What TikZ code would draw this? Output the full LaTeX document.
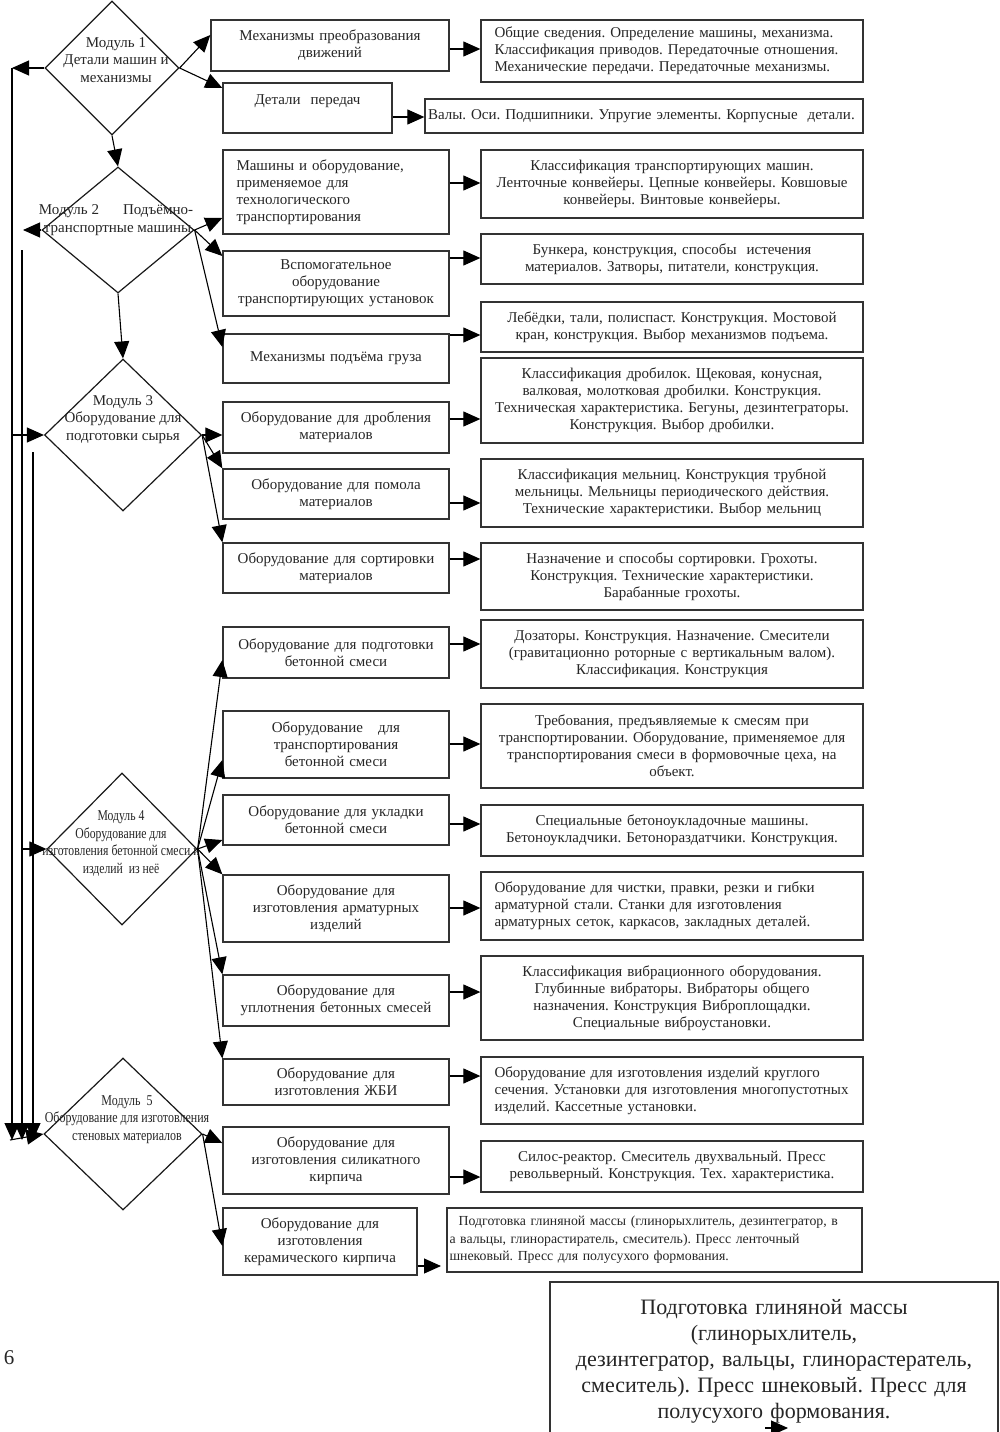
\documentclass[tikz,border=0pt]{standalone}
\usepackage{fontspec}
\usepackage{graphicx}
\setmainfont{Liberation Serif}
\usetikzlibrary{arrows.meta,shapes.geometric}
\frenchspacing
\begin{document}
\begin{tikzpicture}[x=1pt,y=-1pt,
  box/.style={draw=black!80, line width=1.3pt, inner sep=2pt, text=black!85,
    font=\fontsize{15}{17}\selectfont, align=center},
  dia/.style={draw=black!90, diamond, line width=1.2pt, inner sep=0pt},
  arr/.style={line width=1.1pt, -{Triangle[length=17pt,width=15pt]}},
  dtext/.style={font=\fontsize{15}{17.5}\selectfont, align=center, inner sep=0pt, text=black!85},
]
\useasboundingbox (0,0) rectangle (1000,1432);
\fill[white] (0,0) rectangle (1000,1432);

% ---------- diamonds ----------
\node[dia, minimum width=134pt, minimum height=134pt] (D1) at (112,68) {};
\node[dia, minimum width=152pt, minimum height=126pt] (D2) at (118,230) {};
\node[dia, minimum width=157pt, minimum height=152pt] (D3) at (123,435) {};
\node[dia, minimum width=150pt, minimum height=152pt] (D4) at (122,849) {};
\node[dia, minimum width=158pt, minimum height=152pt] (D5) at (123,1134) {};

\node[dtext] (T1) at (116,60) {Модуль 1\\Детали машин и\\механизмы};
\node[dtext, align=left] (T2) at (116,220) {Модуль 2\hspace{24pt}Подъёмно-\\\hspace*{5pt}транспортные машины};
\node[dtext] (T3) at (123,419.5) {Модуль 3\\Оборудование для\\подготовки сырья};
\node[dtext] (T4) at (121,843.5) {\scalebox{0.78}[1]{Модуль 4}\\\scalebox{0.78}[1]{Оборудование для}\\\scalebox{0.78}[1]{изготовления бетонной смеси и}\\\scalebox{0.78}[1]{изделий\ \ из неё}};
\node[dtext] (T5) at (127,1119.5) {\scalebox{0.8}[1]{Модуль\ \ 5}\\\scalebox{0.8}[1]{Оборудование для изготовления}\\\scalebox{0.8}[1]{стеновых материалов}};

% ---------- left column boxes ----------
\node[box, minimum width=238pt, minimum height=51pt, text width=232pt] (B1) at (330,45.5) {Механизмы преобразования\\движений};
\node[box, minimum width=169pt, minimum height=50pt, text width=163pt, text height=10pt, text depth=17pt] (B2) at (307.5,108) {Детали\ \ передач};
\node[box, minimum width=226pt, minimum height=84pt, text width=199pt, align=left] (B3) at (336,192) {Машины и оборудование,\\применяемое для\\технологического\\транспортирования};
\node[box, minimum width=226pt, minimum height=65pt, text width=220pt] (B4) at (336,283.5) {Вспомогательное\\оборудование\\транспортирующих установок};
\node[box, minimum width=226pt, minimum height=49pt, text width=220pt] (B5) at (336,358.5) {Механизмы подъёма груза};
\node[box, minimum width=226pt, minimum height=51pt, text width=220pt] (B6) at (336,427.5) {Оборудование для дробления\\материалов};
\node[box, minimum width=226pt, minimum height=50pt, text width=220pt] (B7) at (336,494) {Оборудование для помола\\материалов};
\node[box, minimum width=226pt, minimum height=50pt, text width=220pt] (B8) at (336,568) {Оборудование для сортировки\\материалов};
\node[box, minimum width=226pt, minimum height=51pt, text width=220pt] (B9) at (336,652.5) {Оборудование для подготовки\\бетонной смеси};
\node[box, minimum width=226pt, minimum height=67pt, text width=220pt] (B10) at (336,744.5) {Оборудование\ \ \ для\\транспортирования\\бетонной смеси};
\node[box, minimum width=226pt, minimum height=50pt, text width=220pt] (B11) at (336,820) {Оборудование для укладки\\бетонной смеси};
\node[box, minimum width=226pt, minimum height=67pt, text width=220pt] (B12) at (336,908.5) {Оборудование для\\изготовления арматурных\\изделий};
\node[box, minimum width=226pt, minimum height=51pt, text width=220pt] (B13) at (336,1000.5) {Оборудование для\\уплотнения бетонных смесей};
\node[box, minimum width=226pt, minimum height=46pt, text width=220pt] (B14) at (336,1082) {Оборудование для\\изготовления ЖБИ};
\node[box, minimum width=226pt, minimum height=67pt, text width=220pt] (B15) at (336,1160.5) {Оборудование для\\изготовления силикатного\\кирпича};
\node[box, minimum width=194pt, minimum height=67pt, text width=188pt] (B16) at (320,1241.5) {Оборудование для\\изготовления\\керамического кирпича};

% ---------- right column boxes ----------
\node[box, minimum width=382pt, minimum height=62pt, text width=355pt, align=left] (R1) at (672,51) {\makebox[355pt][s]{Общие сведения. Определение машины, механизма.}\\\makebox[355pt][s]{Классификация приводов. Передаточные отношения.}\\Механические передачи. Передаточные механизмы.};
\node[box, minimum width=438pt, minimum height=34pt, text width=432pt, align=left] (R2) at (644,116) {Валы. Оси. Подшипники. Упругие элементы. Корпусные\ \ детали.};
\node[box, minimum width=382pt, minimum height=68pt, text width=376pt] (R3) at (672,184) {Классификация транспортирующих машин.\\Ленточные конвейеры. Цепные конвейеры. Ковшовые\\конвейеры. Винтовые конвейеры.};
\node[box, minimum width=382pt, minimum height=50pt, text width=376pt] (R4) at (672,259) {Бункера, конструкция, способы\ \ истечения\\материалов. Затворы, питатели, конструкция.};
\node[box, minimum width=382pt, minimum height=50pt, text width=376pt] (R5) at (672,327) {Лебёдки, тали, полиспаст. Конструкция. Мостовой\\кран, конструкция. Выбор механизмов подъема.};
\node[box, minimum width=382pt, minimum height=85pt, text width=376pt] (R6) at (672,400.5) {Классификация дробилок. Щековая, конусная,\\валковая, молотковая дробилки. Конструкция.\\Техническая характеристика. Бегуны, дезинтеграторы.\\Конструкция. Выбор дробилки.};
\node[box, minimum width=382pt, minimum height=68pt, text width=376pt] (R7) at (672,493) {Классификация мельниц. Конструкция трубной\\мельницы. Мельницы периодического действия.\\Технические характеристики. Выбор мельниц};
\node[box, minimum width=382pt, minimum height=67pt, text width=376pt] (R8) at (672,576.5) {Назначение и способы сортировки. Грохоты.\\Конструкция. Технические характеристики.\\Барабанные грохоты.};
\node[box, minimum width=382pt, minimum height=68pt, text width=376pt] (R9) at (672,654) {Дозаторы. Конструкция. Назначение. Смесители\\(гравитационно роторные с вертикальным валом).\\Классификация. Конструкция};
\node[box, minimum width=382pt, minimum height=84pt, text width=376pt] (R10) at (672,746) {Требования, предъявляемые к смесям при\\транспортировании. Оборудование, применяемое для\\транспортирования смеси в формовочные цеха, на\\объект.};
\node[box, minimum width=382pt, minimum height=51pt, text width=376pt] (R11) at (672,830.5) {Специальные бетоноукладочные машины.\\Бетоноукладчики. Бетонораздатчики. Конструкция.};
\node[box, minimum width=382pt, minimum height=68pt, text width=355pt, align=left] (R12) at (672,906) {Оборудование для чистки, правки, резки и гибки\\арматурной стали. Станки для изготовления\\арматурных сеток, каркасов, закладных деталей.};
\node[box, minimum width=382pt, minimum height=84pt, text width=376pt] (R13) at (672,998) {Классификация вибрационного оборудования.\\Глубинные вибраторы. Вибраторы общего\\назначения. Конструкция Виброплощадки.\\Специальные виброустановки.};
\node[box, minimum width=382pt, minimum height=67pt, text width=355pt, align=left] (R14) at (672,1090.5) {Оборудование для изготовления изделий круглого\\сечения. Установки для изготовления многопустотных\\изделий. Кассетные установки.};
\node[box, minimum width=382pt, minimum height=51pt, text width=376pt] (R15) at (672,1166.5) {Силос-реактор. Смеситель двухвальный. Пресс\\револьверный. Конструкция. Тех. характеристика.};
\node[box, minimum width=415pt, minimum height=64pt, text width=410pt, align=left, inner sep=1pt, font=\fontsize{13.8}{17.5}\selectfont] (R16) at (654.5,1240) {\mbox{\ \ Подготовка глиняной массы (глинорыхлитель, дезинтегратор, в}\\а вальцы, глинорастиратель, смеситель). Пресс ленточный\\шнековый. Пресс для полусухого формования.};
\node[box, minimum width=448pt, minimum height=158pt, text width=440pt, font=\fontsize{22}{26}\selectfont] (P) at (774,1361) {Подготовка глиняной массы\\(глинорыхлитель,\\дезинтегратор, вальцы, глинорастератель,\\смеситель). Пресс шнековый. Пресс для\\полусухого формования.};
\node[font=\fontsize{21}{24}\selectfont, inner sep=0pt, text=black!85] (pg) at (9,1358) {6};

% ---------- connectors: diamonds to boxes ----------
\draw[arr] (D1.east) -- (B1.west |- 0,35);
\draw[arr] (D1.east) -- (B2.west |- 0,88);
\draw[arr] (D1.south) -- (D2.north);
\draw[arr] (D2.east) -- (B3.west |- 0,218);
\draw[arr] (D2.east) -- (B4.west |- 0,256);
\draw[arr] (D2.east) -- (B5.west |- 0,347);
\draw[arr] (D2.south) -- (D3.north);
\draw[arr] (D3.east) -- (B6.west |- 0,435);
\draw[arr] (D3.east) -- (B7.north west);
\draw[arr] (D3.east) -- (B8.north west);
\draw[arr] (D4.east) -- (B9.west |- 0,660);
\draw[arr] (D4.east) -- (B10.west |- 0,760);
\draw[arr] (D4.east) -- (B11.west |- 0,840);
\draw[arr] (D4.east) -- (B12.north west);
\draw[arr] (D4.east) -- (B13.north west);
\draw[arr] (D4.east) -- (B14.north west);
\draw[arr] (D5.east) -- (B15.west |- 0,1143);
\draw[arr] (D5.east) -- (B16.west |- 0,1246);

% ---------- connectors: left boxes to right boxes ----------
\draw[arr] (B1.east |- 0,49) -- (R1.west |- 0,49);
\draw[arr] (B2.east |- 0,117) -- (R2.west |- 0,117);
\draw[arr] (B3.east |- 0,183) -- (R3.west |- 0,183);
\draw[arr] (B4.east |- 0,258) -- (R4.west |- 0,258);
\draw[arr] (B5.east |- 0,335) -- (R5.west |- 0,335);
\draw[arr] (B6.east |- 0,419) -- (R6.west |- 0,419);
\draw[arr] (B7.east |- 0,503) -- (R7.west |- 0,503);
\draw[arr] (B8.east |- 0,559) -- (R8.west |- 0,559);
\draw[arr] (B9.east |- 0,644) -- (R9.west |- 0,644);
\draw[arr] (B10.east |- 0,744) -- (R10.west |- 0,744);
\draw[arr] (B11.east |- 0,824) -- (R11.west |- 0,824);
\draw[arr] (B12.east |- 0,908) -- (R12.west |- 0,908);
\draw[arr] (B13.east |- 0,992) -- (R13.west |- 0,992);
\draw[arr] (B14.east |- 0,1076) -- (R14.west |- 0,1076);
\draw[arr] (B15.east |- 0,1177) -- (R15.west |- 0,1177);
\coordinate (t16) at (441,1266);
\draw[arr] (B16.east |- 0,1266) -- (t16);
\coordinate (pa) at (765,1428);
\coordinate (pb) at (788,1428);
\draw[arr] (pa) -- (pb);

% ---------- left feedback lines ----------
\coordinate (c1) at (12,68);
\coordinate (c1b) at (12,1140);
\coordinate (c1m) at (12,435);
\coordinate (c2) at (23,230);
\coordinate (c2t) at (22,250);
\coordinate (c2b) at (22,1140);
\coordinate (c2m) at (22,849);
\coordinate (c3t) at (33,452);
\coordinate (c3b) at (33,1140);
\coordinate (c4) at (10,1140);
\draw[arr] (D1.west) -- (c1);
\draw[arr] (c1) -- (c1b);
\draw[arr] (c1m) -- (D3.west);
\draw[arr] (D2.west) -- (c2);
\draw[arr] (c2t) -- (c2b);
\draw[arr] (c2m) -- (D4.west);
\draw[arr] (c3t) -- (c3b);
\draw[arr] (c4) -- (D5.west);
\end{tikzpicture}
\end{document}
